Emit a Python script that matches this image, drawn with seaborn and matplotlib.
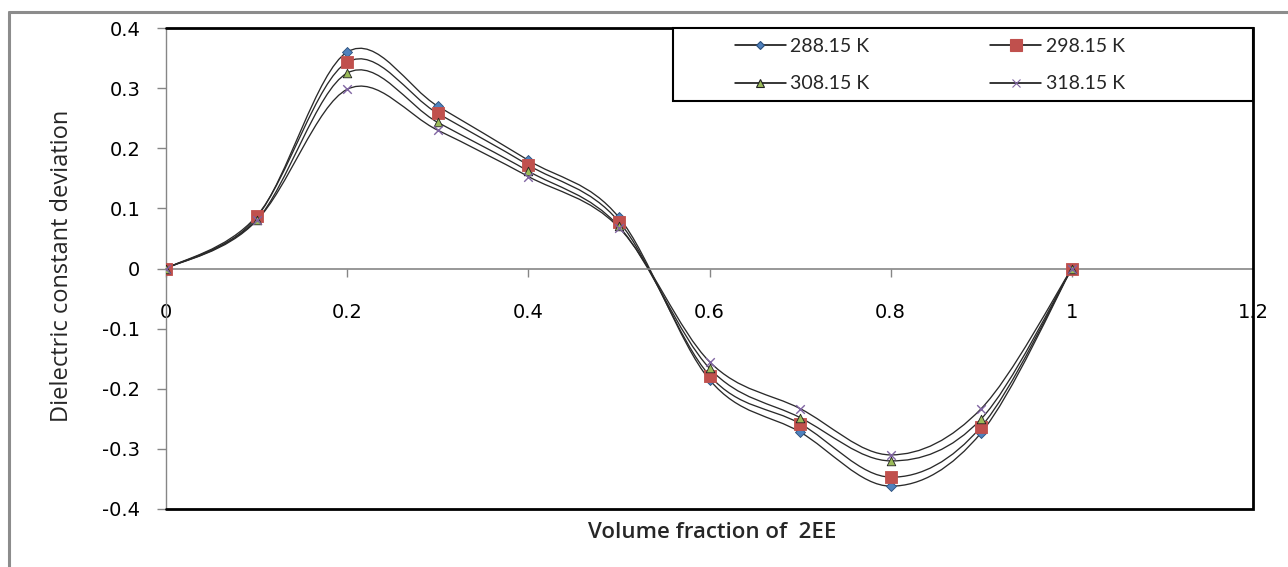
import numpy as np
import pandas as pd
import matplotlib
matplotlib.use("Agg")
import matplotlib.pyplot as plt
from matplotlib.path import Path
from matplotlib.patches import PathPatch, Rectangle
from matplotlib.lines import Line2D
import seaborn as sns

# ── data ───────────────────────────────────────────────────────────────────────
volume_fraction = [0.0, 0.1, 0.2, 0.3, 0.4, 0.5, 0.6, 0.7, 0.8, 0.9, 1.0]
dev_288 = [0.0, 0.085, 0.360, 0.270, 0.180, 0.085, -0.185, -0.272, -0.362, -0.273, 0.0]
dev_298 = [0.0, 0.087, 0.343, 0.258, 0.172, 0.078, -0.178, -0.258, -0.347, -0.263, 0.0]
dev_308 = [0.0, 0.080, 0.325, 0.243, 0.162, 0.070, -0.166, -0.248, -0.320, -0.250, 0.0]
dev_318 = [0.0, 0.080, 0.298, 0.230, 0.153, 0.068, -0.155, -0.233, -0.310, -0.233, 0.0]
series_labels = ["288.15 K", "298.15 K", "308.15 K", "318.15 K"]

x_ticks = [0, 0.2, 0.4, 0.6, 0.8, 1.0, 1.2]
x_ticklabels = ["0", "0.2", "0.4", "0.6", "0.8", "1", "1.2"]
y_ticks = [-0.4, -0.3, -0.2, -0.1, 0, 0.1, 0.2, 0.3, 0.4]
y_ticklabels = ["-0.4", "-0.3", "-0.2", "-0.1", "0", "0.1", "0.2", "0.3", "0.4"]

# estilos por serie
STYLES = [
    dict(marker="D", color="#4F81BD", s=26, edgecolor="#2b4f7a"),
    dict(marker="s", color="#C0504D", s=66, edgecolor="#C0504D"),
    dict(marker="^", color="#9BBB59", s=38, edgecolor="#222222"),
    dict(marker="x", color="#8064A2", s=38, edgecolor=None),
]

sns.set_theme(style="white")
plt.rcParams["font.family"] = ["DejaVu Sans"]

df = pd.DataFrame({"x": volume_fraction, series_labels[0]: dev_288,
                   series_labels[1]: dev_298, series_labels[2]: dev_308,
                   series_labels[3]: dev_318})
long = df.melt(id_vars="x", var_name="serie", value_name="y")


def smooth_path(xs, ys):
    """Curva suavizada tipo Excel (Bezier cúbico, Catmull-Rom /6)."""
    pts = np.column_stack([xs, ys])
    n = len(pts)
    verts = [pts[0]]
    codes = [Path.MOVETO]
    for i in range(n - 1):
        p0 = pts[i - 1] if i > 0 else pts[i]
        p1, p2 = pts[i], pts[i + 1]
        p3 = pts[i + 2] if i + 2 < n else pts[i + 1]
        c1 = p1 + (p2 - p0) / 6.0
        c2 = p2 - (p3 - p1) / 6.0
        verts += [c1, c2, p2]
        codes += [Path.CURVE4] * 3
    return Path(verts, codes)


fig = plt.figure(figsize=(12.88, 5.67), dpi=100)
ax = fig.add_axes([166 / 1288, 1 - 509 / 567, (1253 - 166) / 1288, (509 - 28) / 567])

for lab in series_labels:
    sub = long[long["serie"] == lab]
    ax.add_patch(PathPatch(smooth_path(sub["x"].values, sub["y"].values),
                           facecolor="none", edgecolor="#2a2a2a", lw=0.95, zorder=2))

for lab, st in zip(series_labels, STYLES):
    sub = long[long["serie"] == lab]
    kw = dict(marker=st["marker"], s=st["s"], color=st["color"], zorder=3, legend=False)
    if st["marker"] == "x":
        kw["linewidth"] = 1.0
    else:
        kw["edgecolor"] = st["edgecolor"]
        kw["linewidth"] = 0.6
    sns.scatterplot(data=sub, x="x", y="y", ax=ax, **kw)

ax.set_xlim(0, 1.2)
ax.set_ylim(-0.4, 0.4)
ax.set_xticks(x_ticks)
ax.set_xticklabels(x_ticklabels)
ax.set_yticks(y_ticks)
ax.set_yticklabels(y_ticklabels)
ax.set_xlabel("")
ax.set_ylabel("")

# ejes: el eje x pasa por y = 0
for s in ["top", "right"]:
    ax.spines[s].set_visible(False)
ax.spines["bottom"].set_position(("data", 0))
ax.spines["bottom"].set_color("#868686")
ax.spines["left"].set_color("#868686")
ax.spines["bottom"].set_linewidth(1.2)
ax.spines["left"].set_linewidth(1.0)
ax.tick_params(axis="x", direction="out", length=6, width=1, color="#868686",
               pad=19, labelsize=14, labelcolor="black")
ax.tick_params(axis="y", direction="out", length=6.5, width=1, color="#868686",
               pad=12, labelsize=14, labelcolor="black")
ax.xaxis.set_ticks_position("bottom")
ax.yaxis.set_ticks_position("left")

# marco negro del área de trazado (arriba, derecha, abajo)
ax.plot([0, 1, 1, 0], [1, 1, 0, 0], transform=ax.transAxes, color="black",
        lw=2.0, clip_on=False, zorder=5, solid_joinstyle="miter")

# leyenda con marco propio
lx0 = (673 - 166) / 1087
ly0 = 1 - (101 - 28) / 481
ax.add_patch(Rectangle((lx0, ly0), 1 - lx0, 1 - ly0, transform=ax.transAxes,
                       facecolor="white", edgecolor="black", lw=1.5, zorder=6,
                       clip_on=False))
handles = []
for lab, st in zip(series_labels, STYLES):
    msize = {"D": 4.5, "s": 8, "^": 5.5, "x": 5.5}[st["marker"]]
    mec = st["edgecolor"] if st["edgecolor"] else st["color"]
    handles.append(Line2D([], [], color="black", lw=1.1, marker=st["marker"],
                          markersize=msize, markerfacecolor=st["color"],
                          markeredgecolor=mec, markeredgewidth=0.8, label=lab))
order = [0, 2, 1, 3]
leg = ax.legend([handles[i] for i in order], [series_labels[i] for i in order],
                ncol=2, loc="upper left",
                bbox_to_anchor=((735 - 166) / 1087, 1 - (38 - 28) / 481),
                frameon=False, borderpad=0, borderaxespad=0,
                handlelength=2.6, handletextpad=0.25, columnspacing=6.2,
                labelspacing=1.05, prop={"family": "Lato", "size": 14})
leg.set_zorder(7)

# etiquetas de ejes
fig.text(712 / 1288, 1 - 533 / 567, "Volume fraction of  2EE", ha="center", va="center",
         fontsize=16, fontfamily="Open Sans", fontweight="semibold")
fig.text(62 / 1288, 1 - 266 / 567, "Dielectric constant deviation", ha="center",
         va="center", rotation=90, fontsize=17, fontfamily="Open Sans")

# marco gris exterior
fig.add_artist(Line2D([9 / 1288, 9 / 1288], [0, 1 - 12 / 567], color="#8c8c8c", lw=2.2,
                      transform=fig.transFigure))
fig.add_artist(Line2D([9 / 1288, 1], [1 - 12 / 567, 1 - 12 / 567], color="#8c8c8c",
                      lw=2.2, transform=fig.transFigure))

fig.savefig("out.png", dpi=100, facecolor="white")
plt.close()
